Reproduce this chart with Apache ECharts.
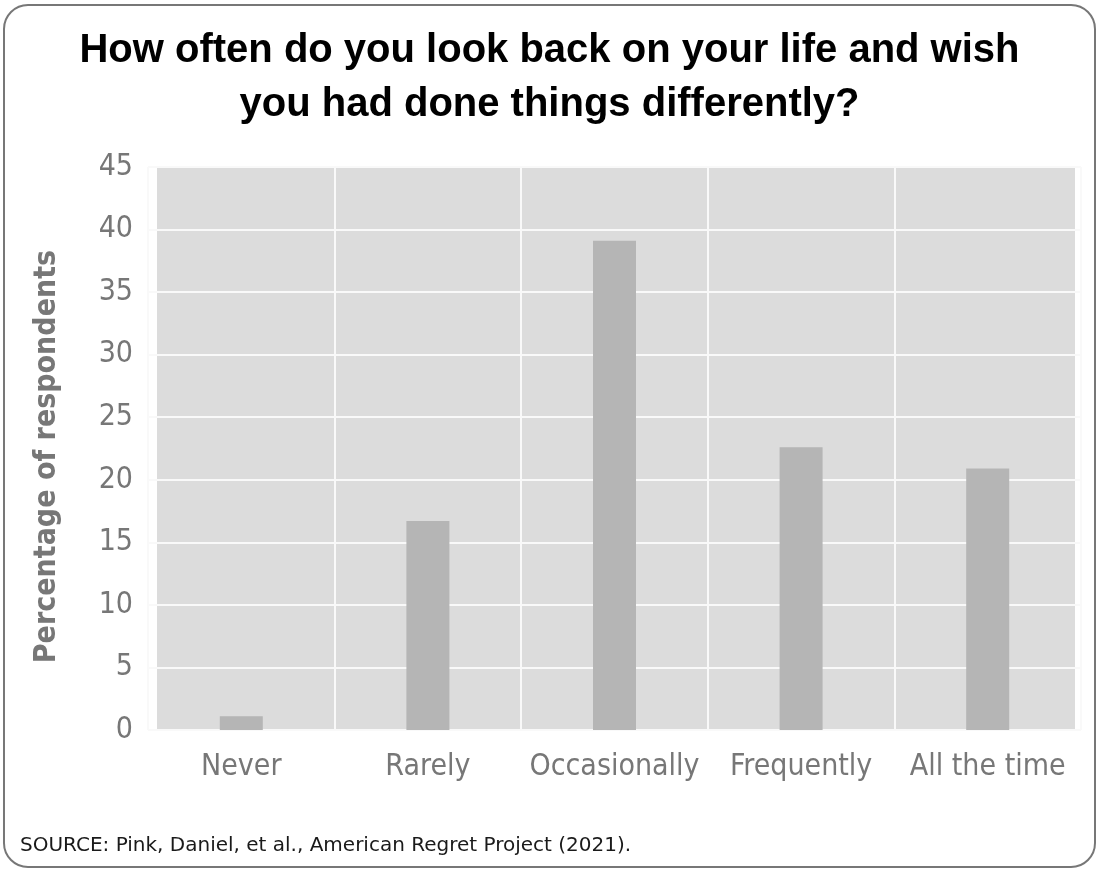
<!DOCTYPE html>
<html>
<head>
<meta charset="utf-8">
<script src="https://cdn.jsdelivr.net/npm/echarts@6/dist/echarts.min.js"></script>
<style>
html,body{margin:0;padding:0;background:#fff;}
#chart{width:1099px;height:871px;}
</style>
</head>
<body>
<div id="chart"></div>
<script>
// chart data
var categories = ['Never', 'Rarely', 'Occasionally', 'Frequently', 'All the time'];
var values = [1.1, 16.7, 39.1, 22.6, 20.9];
var yTicks = [0, 5, 10, 15, 20, 25, 30, 35, 40, 45];

var titleText = 'How often do you look back on your life and wish\nyou had done things differently?';
var sourceText = 'SOURCE: Pink, Daniel, et al., American Regret Project (2021).';

var narrow = "'DejaVu Sans Condensed', 'Liberation Sans Narrow', sans-serif";

var option = {
    backgroundColor: '#fff',
    animation: false,
    title: {
        text: titleText,
        left: 'center',
        top: 19,
        textStyle: {
            fontFamily: "'Liberation Sans', Arial, sans-serif",
            fontWeight: 'bold',
            fontSize: 40,
            lineHeight: 54,
            color: '#000'
        }
    },
    graphic: [
        // outer rounded frame
        {type: 'rect', z: -20, shape: {x: 4, y: 5, width: 1091, height: 862, r: 24},
            style: {fill: 'none', stroke: '#777', lineWidth: 2}},
        // plot background
        {type: 'rect', z: -10, shape: {x: 157, y: 166, width: 918, height: 564},
            style: {fill: '#dcdcdc'}},
        {type: 'text', left: 20, top: 836, z: 5,
            style: {text: sourceText, fontFamily: "'DejaVu Sans', sans-serif", fontSize: 20, fill: '#1a1a1a'}}
    ],
    grid: {
        left: 148,
        right: 18,
        top: 167,
        bottom: 141,
        containLabel: false
    },
    xAxis: {
        type: 'category',
        data: categories,
        axisLine: {show: false},
        axisTick: {show: false},
        splitLine: {show: true, lineStyle: {color: '#f9f9f9', width: 2}},
        axisLabel: {
            interval: 0,
            margin: 22,
            fontFamily: narrow,
            fontSize: 30,
            color: '#777'
        }
    },
    yAxis: {
        type: 'value',
        min: yTicks[0],
        max: yTicks[yTicks.length - 1],
        interval: 5,
        name: 'Percentage of respondents',
        nameLocation: 'middle',
        nameGap: 86,
        nameTextStyle: {
            fontFamily: narrow,
            fontWeight: 'bold',
            fontSize: 30,
            color: '#777',
            padding: [0, 16, 0, 0]
        },
        axisLine: {show: false},
        axisTick: {show: false},
        splitLine: {show: true, lineStyle: {color: '#f9f9f9', width: 2}},
        axisLabel: {
            margin: 15,
            fontFamily: narrow,
            fontSize: 30,
            color: '#777'
        }
    },
    series: [{
        type: 'bar',
        data: values,
        barWidth: 43,
        itemStyle: {color: '#b5b5b5'}
    }]
};

var myChart = echarts.init(document.getElementById('chart'));
myChart.setOption(option, true);
</script>
</body>
</html>
